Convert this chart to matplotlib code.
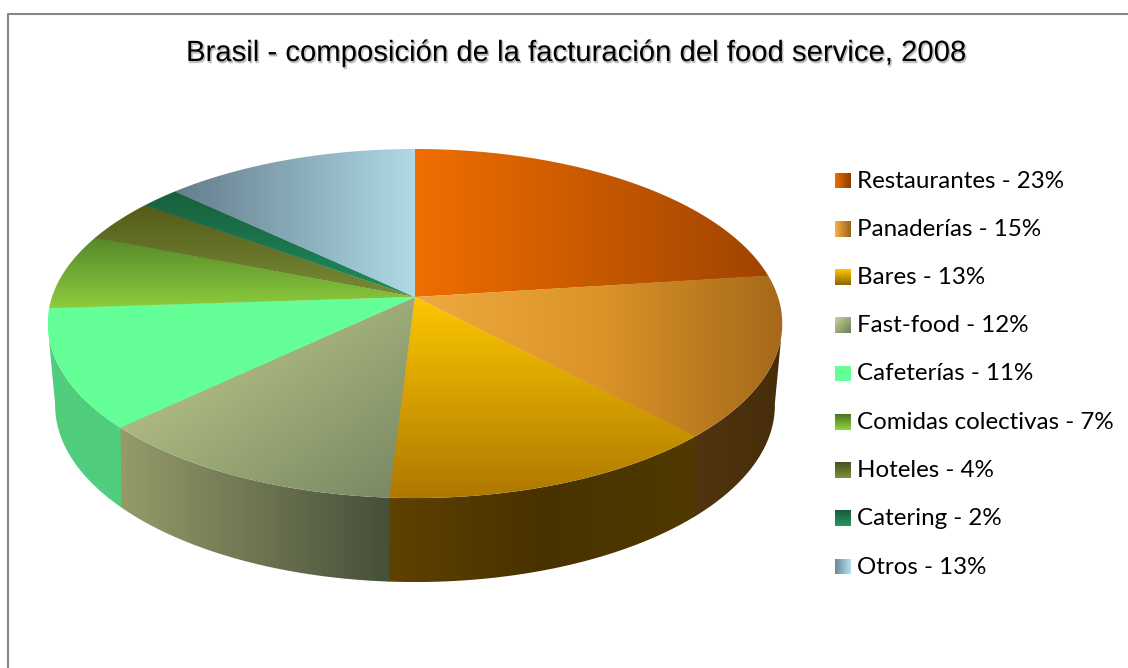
import numpy as np
import matplotlib
matplotlib.use('Agg')
import matplotlib.pyplot as plt
import matplotlib.patheffects as pe
from matplotlib.colors import LinearSegmentedColormap
from matplotlib.patches import Polygon

names = ['Restaurantes', 'Panaderías', 'Bares', 'Fast-food', 'Cafeterías',
         'Comidas colectivas', 'Hoteles', 'Catering', 'Otros']
shares = [23, 15, 13, 12, 11, 7, 4, 2, 13]
title = 'Brasil - composición de la facturación del food service, 2008'

# colour stops and gradient direction per slice (top face)
top_colors = [
    ['#f06e00', '#a04400'],
    ['#eeaa40', '#dc9428', '#a56919'],
    ['#fcc800', '#af7800'],
    ['#acb980', '#7a8964'],
    ['#64ff96', '#64ff96'],
    ['#55872a', '#8ccd3c'],
    ['#555a19', '#788c37'],
    ['#195f3c', '#1e8c5f'],
    ['#647d8c', '#afdae6'],
]
top_dirs = [(1, 0), (1, 0), (0, 1), (0.7, 1), (1, 0), (0, 1), (0, 1), (0, 1), (1, 0)]
side_colors = {
    1: ['#52340f', '#462d0a'],
    2: ['#5f4100', '#483200', '#503a00'],
    3: ['#969b69', '#46503a'],
    4: ['#50cd7d', '#50cd7d'],
}
legend_colors = [
    ['#f06e00', '#8c3c00'],
    ['#ffb040', '#96651e'],
    ['#ffc800', '#8c6400'],
    ['#c3d79b', '#6e7d55'],
    ['#64ff96', '#64ff96'],
    ['#4b7323', '#91d73c'],
    ['#46501e', '#7d9137'],
    ['#195a3c', '#28965f'],
    ['#6e8796', '#b4e1f0'],
]
legend_dirs = [(1, 0), (1, 0), (0, 1), (1, 1), (1, 0), (0, 1), (0, 1), (0, 1), (1, 0)]

W, H = 1128, 668
CX, CY = 415, 297


def rim(t_deg, r, s, k, cy):
    # perspective circle, t measured clockwise from the top
    t = np.radians(t_deg)
    u, v = np.sin(t), np.cos(t)
    w = 1 + k * v
    return np.column_stack([CX + r * u / w, cy - s * v / w])


def upper(t_deg):
    return rim(t_deg, 363, 170.5, 0.152, CY)


def lower(t_deg):
    return rim(t_deg, 354, 171, 0.18, 373.5)


def grad_fill(ax, verts, stops, direction, zorder=2):
    x0, y0 = verts.min(axis=0)
    x1, y1 = verts.max(axis=0)
    xx, yy = np.meshgrid(np.linspace(x0, x1, 200), np.linspace(y0, y1, 200))
    dx, dy = direction
    g = xx * dx + yy * dy
    # stretch over the slice itself, not over its box
    p = verts[:, 0] * dx + verts[:, 1] * dy
    g = (g - p.min()) / (p.max() - p.min())
    cmap = LinearSegmentedColormap.from_list('g', stops)
    im = ax.imshow(g, cmap=cmap, extent=(x0, x1, y1, y0), origin='upper',
                   aspect='auto', zorder=zorder, vmin=0, vmax=1,
                   interpolation='bilinear')
    poly = Polygon(verts, closed=True, transform=ax.transData, fc='none', ec='none')
    ax.add_patch(poly)
    im.set_clip_path(poly)


fig = plt.figure(figsize=(W / 100, H / 100), dpi=100)
ax = fig.add_axes([0, 0, 1, 1])

ax.plot([7.5, 7.5, W], [H, 14, 14], color='#868686', lw=1.5, solid_capstyle='butt')

edges = np.cumsum([0] + shares) * 3.6

# side wall first, the top face goes over it
for i, stops in side_colors.items():
    a = max(edges[i], 100)
    b = min(edges[i + 1], 260)
    ts = np.linspace(a - 0.2, b, 80)
    verts = np.vstack([upper(ts), lower(ts[::-1])])
    grad_fill(ax, verts, stops, (1, 0), zorder=2)

for i in range(len(shares)):
    # small overlap so no white seam shows between slices
    ts = np.linspace(edges[i] - 0.15, edges[i + 1], 120)
    verts = np.vstack([[[CX, CY]], upper(ts)])
    grad_fill(ax, verts, top_colors[i], top_dirs[i], zorder=3)

ax.text(575.5, 53, title, family='Liberation Sans', fontsize=21.1, ha='center', va='center',
        color='black', path_effects=[
            pe.Stroke(offset=(0.8, -1.2), linewidth=1.4, foreground='black', alpha=0.07),
            pe.Stroke(offset=(0.8, -1.2), linewidth=0.3, foreground='black', alpha=0.14),
            pe.Normal()])

for i, (name, share) in enumerate(zip(names, shares)):
    y = 180.5 + 48.25 * i
    sw = np.array([[835, y - 8], [851, y - 8], [851, y + 8], [835, y + 8]])
    grad_fill(ax, sw, legend_colors[i], legend_dirs[i], zorder=3)
    ax.text(857, y + 0.5, f'{name} - {share}%', family='Lato', fontsize=17.4,
            ha='left', va='center', color='black')

ax.set_xlim(0, W)
ax.set_ylim(H, 0)
ax.axis('off')
fig.savefig('out.png', dpi=100, facecolor='white')
